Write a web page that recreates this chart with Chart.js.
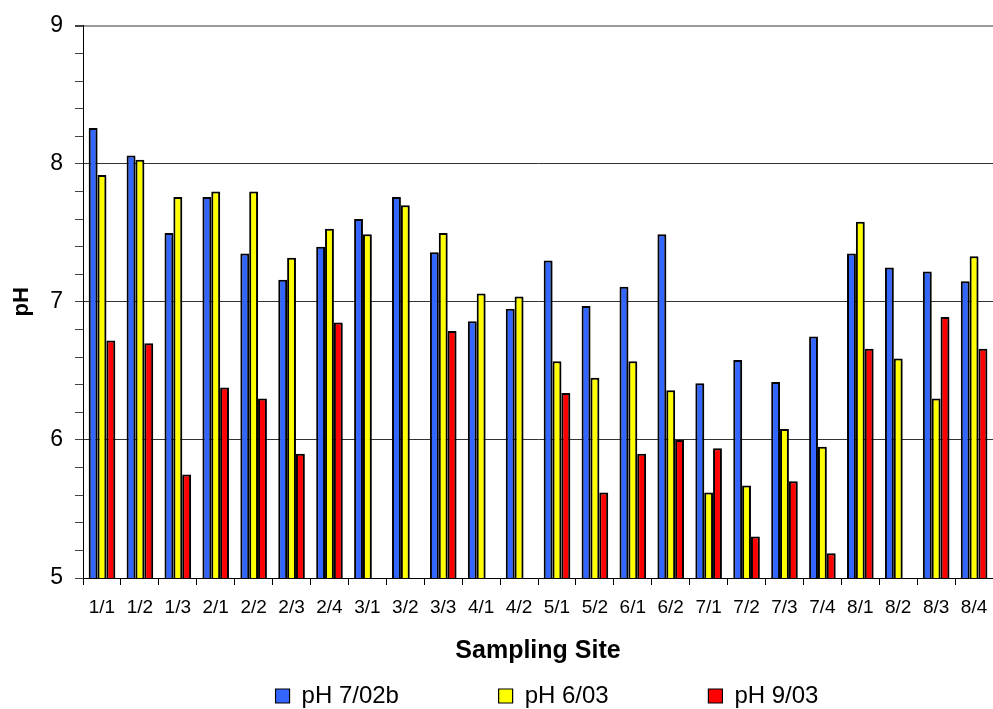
<!DOCTYPE html>
<html>
<head>
<meta charset="utf-8">
<title>pH by Sampling Site</title>
<script src="https://cdn.jsdelivr.net/npm/chart.js@4.4.1/dist/chart.umd.min.js"></script>
<style>
  html, body { margin: 0; padding: 0; background: #fff; }
  canvas { display: block; }
</style>
</head>
<body>
<canvas id="chart" width="993" height="709"></canvas>
<script>
// Sampling sites along the x axis
const sites = ['1/1','1/2','1/3','2/1','2/2','2/3','2/4','3/1','3/2','3/3','4/1','4/2',
               '5/1','5/2','6/1','6/2','7/1','7/2','7/3','7/4','8/1','8/2','8/3','8/4'];

// pH readings per sampling campaign (null = no reading)
const ph0702b = [8.26, 8.06, 7.50, 7.76, 7.35, 7.16, 7.40, 7.60, 7.76, 7.36, 6.86, 6.95,
                 7.30, 6.97, 7.11, 7.49, 6.41, 6.58, 6.42, 6.75, 7.35, 7.25, 7.22, 7.15];
const ph0603  = [7.92, 8.03, 7.76, 7.80, 7.80, 7.32, 7.53, 7.49, 7.70, 7.50, 7.06, 7.04,
                 6.57, 6.45, 6.57, 6.36, 5.62, 5.67, 6.08, 5.95, 7.58, 6.59, 6.30, 7.33];
const ph0903  = [6.72, 6.70, 5.75, 6.38, 6.30, 5.90, 6.85, null, null, 6.79, null, null,
                 6.34, 5.62, 5.90, 6.00, 5.94, 5.30, 5.70, 5.18, 6.66, null, 6.89, 6.66];

const seriesNames = ['pH 7/02b', 'pH 6/03', 'pH 9/03'];

const FONT = "'Liberation Sans', Arial, Helvetica, sans-serif";
const isWhole = v => Math.abs(v - Math.round(v)) < 1e-6;

// soft grey drop shadow behind the bars
const barShadow = {
  id: 'barShadow',
  beforeDatasetsDraw(chart) {
    const ctx = chart.ctx;
    ctx.save();
    ctx.shadowColor = 'rgba(0,0,0,0.35)';
    ctx.shadowBlur = 1.5;
    ctx.shadowOffsetX = 1;
    ctx.shadowOffsetY = 1;
  },
  afterDatasetsDraw(chart) {
    chart.ctx.restore();
  }
};

// shift the legend row slightly right of the plot centre
const legendNudge = {
  id: 'legendNudge',
  afterLayout(chart) {
    const lg = chart.legend;
    if (lg) { lg.left += 9; lg.right += 9; }
  }
};

// extra room after each legend entry except the last
const legendGap = '\u0020'.repeat(13);

Chart.defaults.font.family = FONT;
Chart.defaults.color = '#000';

new Chart(document.getElementById('chart'), {
  type: 'bar',
  data: {
    labels: sites,
    datasets: [
      { label: seriesNames[0], data: ph0702b, backgroundColor: '#3366ff', borderColor: '#000', borderWidth: 2 },
      { label: seriesNames[1], data: ph0603,  backgroundColor: '#ffff00', borderColor: '#000', borderWidth: 2 },
      { label: seriesNames[2], data: ph0903,  backgroundColor: '#ff0000', borderColor: '#000', borderWidth: 2 }
    ]
  },
  options: {
    responsive: false,
    animation: false,
    categoryPercentage: 0.70,
    barPercentage: 1.0,
    layout: { padding: { top: 24, right: 0, left: 0, bottom: -9 } },
    plugins: {
      tooltip: { enabled: false },
      legend: {
        position: 'bottom',
        fullSize: false,
        labels: {
          font: { size: 24, family: FONT },
          color: '#000',
          boxWidth: 14,
          boxHeight: 14,
          padding: 13,
          generateLabels(chart) {
            const items = Chart.defaults.plugins.legend.labels.generateLabels(chart);
            items.forEach((it, i) => {
              if (i < items.length - 1) it.text = it.text + legendGap;
              it.lineWidth = 1.2;
            });
            return items;
          }
        }
      }
    },
    scales: {
      x: {
        grid: {
          offset: true,
          drawOnChartArea: false,
          drawTicks: true,
          tickLength: 7,
          color: '#000'
        },
        border: { display: true, color: '#000', width: 1 },
        ticks: {
          font: { size: 19, family: FONT },
          color: '#000',
          padding: 11,
          maxRotation: 0,
          autoSkip: false
        },
        title: {
          display: true,
          text: 'Sampling Site',
          font: { size: 25, weight: 'bold', family: FONT },
          color: '#000',
          padding: { top: 0, bottom: 5 }
        },
        afterFit(scale) {
          scale.height = 93;
          scale.paddingLeft = 0;
          scale.paddingRight = 0;
        }
      },
      y: {
        min: 5,
        max: 9,
        grid: {
          drawTicks: true,
          tickLength: 8,
          color: ctx => {
            const v = ctx.tick ? ctx.tick.value : 0;
            if (!isWhole(v)) return 'rgba(0,0,0,0)';
            return Math.round(v) === 9 ? '#9a9a9a' : '#333';
          },
          lineWidth: ctx => (ctx.tick && isWhole(ctx.tick.value) && Math.round(ctx.tick.value) === 9) ? 2 : 1,
          tickColor: '#444'
        },
        border: { display: true, color: '#000', width: 1 },
        ticks: {
          stepSize: 0.2,
          autoSkip: false,
          font: { size: 23, family: FONT },
          color: '#000',
          padding: 12,
          callback: v => isWhole(v) ? String(Math.round(v)) : ''
        },
        title: {
          display: true,
          text: 'pH',
          font: { size: 22, weight: 'bold', family: FONT },
          color: '#000',
          padding: { top: 9, bottom: 0 }
        },
        afterFit(scale) { scale.width = 83; }
      }
    }
  },
  plugins: [barShadow, legendNudge]
});
</script>
</body>
</html>
